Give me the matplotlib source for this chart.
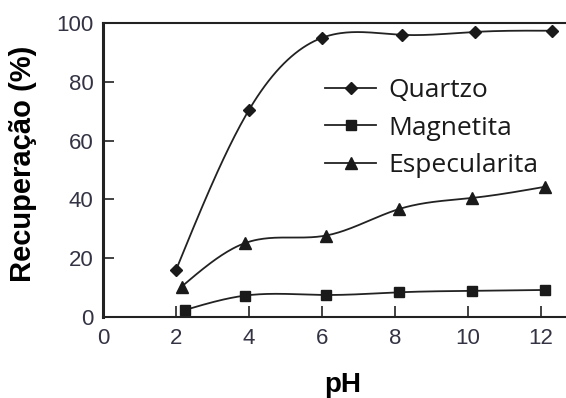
import numpy as np
import matplotlib
matplotlib.use("Agg")
import matplotlib.pyplot as plt
from matplotlib.lines import Line2D

# recovery (%) versus pH for each mineral
ph_quartzo = [2.0, 4.0, 6.0, 8.2, 10.2, 12.3]
rec_quartzo = [16.0, 70.5, 95.0, 96.0, 97.0, 97.4]

ph_magnetita = [2.25, 3.9, 6.1, 8.1, 10.1, 12.1]
rec_magnetita = [2.4, 7.3, 7.5, 8.4, 8.9, 9.2]

ph_especularita = [2.15, 3.9, 6.1, 8.1, 10.1, 12.1]
rec_especularita = [10.3, 25.2, 27.7, 36.7, 40.5, 44.3]

labels = ["Quartzo", "Magnetita", "Especularita"]
markers = ["D", "s", "^"]
msizes = [6, 7.5, 8]
xticks = [0, 2, 4, 6, 8, 10, 12]
yticks = [0, 20, 40, 60, 80, 100]


def natural_spline(x, y, n=200):
    # plain natural cubic spline, used only to draw a smooth line through the points
    x = np.asarray(x, float)
    y = np.asarray(y, float)
    k = len(x)
    h = np.diff(x)
    A = np.zeros((k, k))
    b = np.zeros(k)
    A[0, 0] = A[-1, -1] = 1
    for i in range(1, k - 1):
        A[i, i - 1] = h[i - 1]
        A[i, i] = 2 * (h[i - 1] + h[i])
        A[i, i + 1] = h[i]
        b[i] = 6 * ((y[i + 1] - y[i]) / h[i] - (y[i] - y[i - 1]) / h[i - 1])
    m = np.linalg.solve(A, b)
    xs = np.linspace(x[0], x[-1], n)
    idx = np.clip(np.searchsorted(x, xs) - 1, 0, k - 2)
    x0, x1 = x[idx], x[idx + 1]
    hh = x1 - x0
    t0, t1 = x1 - xs, xs - x0
    ys = (m[idx] * t0**3 + m[idx + 1] * t1**3) / (6 * hh) \
        + (y[idx] / hh - m[idx] * hh / 6) * t0 \
        + (y[idx + 1] / hh - m[idx + 1] * hh / 6) * t1
    return xs, ys


fig = plt.figure(figsize=(5.66, 3.98), dpi=100)
ax = fig.add_axes([0.182, 0.2035, 0.818, 0.7385])

series = [(ph_quartzo, rec_quartzo), (ph_magnetita, rec_magnetita),
          (ph_especularita, rec_especularita)]
handles = []
for (xv, yv), mk, ms, lab in zip(series, markers, msizes, labels):
    xs, ys = natural_spline(xv, yv)
    ax.plot(xs, ys, color="#222222", lw=1.3)
    ax.plot(xv, yv, ls="none", marker=mk, ms=ms, color="#1a1a1a")
    handles.append(Line2D([], [], color="#222222", lw=1.3, marker=mk, ms=ms,
                          markerfacecolor="#1a1a1a", markeredgecolor="#1a1a1a"))

ax.set_xlim(0, 12.68)
ax.set_ylim(0, 100)
ax.set_xticks(xticks)
ax.set_yticks(yticks)
ax.tick_params(direction="in", length=8, width=1.2, colors="#222222",
               labelcolor="#333344", labelsize=16)
ax.tick_params(axis="x", pad=8)
ax.tick_params(axis="y", pad=7)
for lab in ax.get_xticklabels() + ax.get_yticklabels():
    lab.set_family("Liberation Sans")
ax.spines["right"].set_visible(False)
ax.spines["left"].set_linewidth(2.2)
ax.spines["bottom"].set_linewidth(1.5)
ax.spines["top"].set_linewidth(1.5)
for s in ax.spines.values():
    s.set_color("#222222")

ax.set_ylabel("Recuperação (%)", family="Liberation Sans", fontweight="bold",
              fontsize=21)
ax.set_xlabel("pH", family="Liberation Sans", fontweight="bold", fontsize=20)
ax.yaxis.set_label_coords(-0.1425, 0.522)
ax.xaxis.set_label_coords(0.518, -0.187)

leg = ax.legend(handles, labels, loc="upper left",
                bbox_to_anchor=(325 / 566, 1 - 78 / 398),
                bbox_transform=fig.transFigure, borderpad=0, borderaxespad=0,
                frameon=False, numpoints=1, handlelength=1.95, handletextpad=0.45,
                labelspacing=0.48, prop={"family": "Open Sans", "size": 19})
for t in leg.get_texts():
    t.set_color("#1a1a1a")

fig.savefig("out.png", dpi=100)
